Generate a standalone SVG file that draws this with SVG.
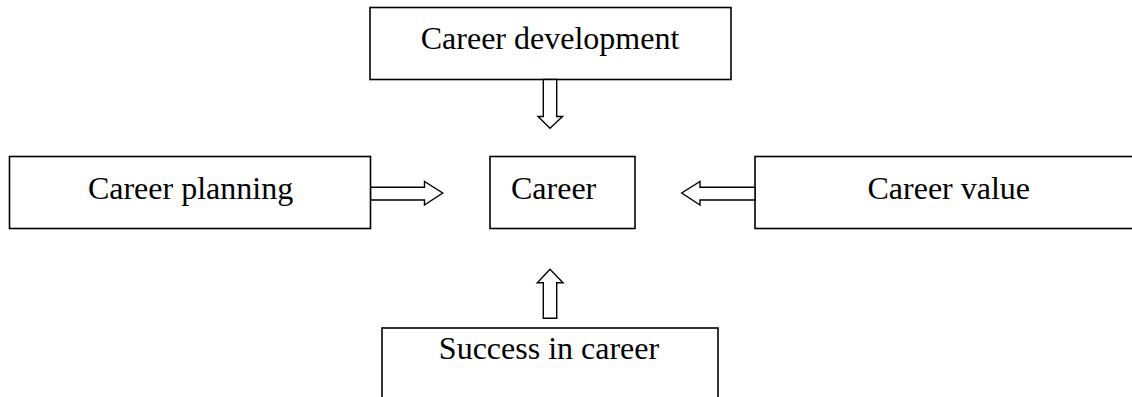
<svg xmlns="http://www.w3.org/2000/svg" width="1132" height="397" viewBox="0 0 1132 397">
  <style>
    .box { fill: #ffffff; stroke: #000000; stroke-width: 1.6; }
    .lbl { font-family: "Liberation Serif", "Times New Roman", serif; font-size: 32px; fill: #000000; }
    .arrow { fill: #ffffff; stroke: #000000; stroke-width: 1.4; stroke-linejoin: miter; }
  </style>
  <rect width="1132" height="397" fill="#ffffff"/>

  <g id="career-development">
    <rect class="box" x="370" y="7.5" width="361" height="72"/>
    <text class="lbl" x="550" y="49" text-anchor="middle">Career development</text>
  </g>

  <g id="career-planning">
    <rect class="box" x="9.5" y="156.5" width="361" height="72"/>
    <text class="lbl" x="190.5" y="199" text-anchor="middle">Career planning</text>
  </g>

  <g id="career">
    <rect class="box" x="490" y="156.5" width="145" height="72"/>
    <text class="lbl" x="511" y="199">Career</text>
  </g>

  <g id="career-value">
    <rect class="box" x="755" y="156.5" width="500" height="72"/>
    <text class="lbl" x="867.5" y="199">Career value</text>
  </g>

  <g id="success-in-career">
    <rect class="box" x="382" y="328" width="336" height="100"/>
    <text class="lbl" x="549" y="359" text-anchor="middle">Success in career</text>
  </g>

  <!-- block arrows pointing into the central box -->
  <g id="connectors">
    <polygon class="arrow" points="543.3,79.5 543.3,116.5 538,116.5 550,128.3 562.5,116.5 556.7,116.5 556.7,79.5"/>
    <polygon class="arrow" points="370.7,187.3 424.5,187.3 424.5,181.5 442.7,193 424.5,205 424.5,200 370.7,200"/>
    <polygon class="arrow" points="755,187.3 700,187.3 700,181.5 681.7,193 700,205 700,200 755,200"/>
    <polygon class="arrow" points="543.3,318.3 543.3,282.7 537.3,282.7 550,269.3 563,282.7 556.7,282.7 556.7,318.3"/>
  </g>
</svg>
